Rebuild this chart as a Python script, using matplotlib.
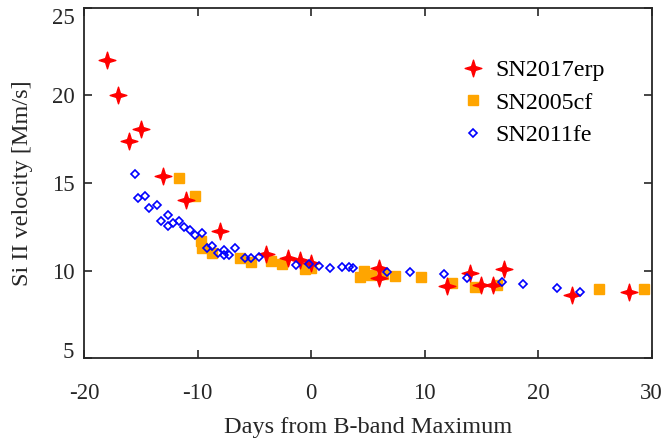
import numpy as np
from matplotlib import pyplot as plt
from matplotlib.path import Path

plt.rcParams['font.family'] = ['Liberation Serif', 'DejaVu Serif']

# SN2017erp (red stars)
erp_days = [-18, -17, -16, -15, -13, -11, -8, -4, -2, -1, 0, 6, 6, 12, 14, 15, 16, 17, 23, 28]
erp_vel = [22.0, 20.0, 17.4, 18.1, 15.4, 14.05, 12.25, 10.95, 10.7, 10.6, 10.45,
           10.12, 9.55, 9.1, 9.85, 9.2, 9.15, 10.1, 8.6, 8.8]

# SN2005cf (orange squares)
cf_days = [-11.6, -10.2, -9.7, -9.6, -8.7, -6.3, -5.3, -3.5, -2.6, -0.5, 0.0,
           4.3, 4.7, 5.3, 6.3, 7.4, 9.7, 12.4, 14.4, 16.4, 25.4, 29.3]
cf_vel = [15.3, 14.25, 11.7, 11.3, 11.0, 10.73, 10.5, 10.54, 10.37, 10.1, 10.16,
          9.65, 9.95, 9.75, 9.8, 9.7, 9.65, 9.3, 9.07, 9.15, 8.92, 8.96]

# SN2011fe (blue open diamonds)
fe_days = [-15.5, -15.2, -14.6, -14.3, -13.6, -13.2, -12.6, -12.6, -12.2, -11.6,
           -11.2, -10.7, -10.2, -9.6, -9.2, -8.7, -8.2, -7.7, -7.7, -7.2, -6.7,
           -5.8, -5.3, -4.6, -1.3, -0.2, 0.7, 1.65, 2.7, 3.35, 3.7,
           6.7, 8.75, 11.7, 13.7, 16.8, 18.7, 21.7, 23.7]
fe_vel = [15.52, 14.15, 14.24, 13.58, 13.73, 12.82, 13.2, 12.53, 12.72, 12.82,
          12.5, 12.3, 12.02, 12.15, 11.26, 11.43, 11.01, 11.2, 10.86, 10.88, 11.26,
          10.69, 10.73, 10.79, 10.31, 10.35, 10.25, 10.16, 10.22, 10.22, 10.12,
          9.91, 9.91, 9.8, 9.59, 9.36, 9.25, 9.02, 8.79]

xticks = [-20, -10, 0, 10, 20, 30]
xtick_labels = ['-20', '-10', '0', '10', '20', '30']
yticks = [5, 10, 15, 20, 25]

# four pointed star marker
ang = np.arange(8) * np.pi / 4 + np.pi / 2
rad = np.where(np.arange(8) % 2 == 0, 1.0, 0.33)
verts = np.column_stack([rad * np.cos(ang), rad * np.sin(ang)])
verts = np.vstack([verts, verts[:1]])
star = Path(verts, [Path.MOVETO] + [Path.LINETO] * 7 + [Path.CLOSEPOLY])

fig = plt.figure(figsize=(6.65, 4.41), dpi=100)
ax = fig.add_axes([0.1263, 0.188, 0.8537, 0.794])

ax.plot(erp_days, erp_vel, linestyle='none', marker=star, markersize=12,
        color='#ff0000', mec='#ff0000', label='SN2017erp', zorder=3)
ax.plot(cf_days, cf_vel, linestyle='none', marker='s', markersize=6.5,
        color='#ffa500', mec='#ffa500', label='SN2005cf', zorder=2)
ax.plot(fe_days, fe_vel, linestyle='none', marker='D', markersize=4,
        mfc='none', mec='#0000ff', mew=1.2, label='SN2011fe', zorder=4)

ax.set_xlim(-20, 30)
ax.set_ylim(5, 25)
ax.set_xticks(xticks)
ax.set_xticklabels(xtick_labels)
ax.set_yticks(yticks)
ax.tick_params(direction='in', length=6, width=1.2, top=True, right=True,
               labelsize=16.5, colors='#262626')
ax.tick_params(axis='x', pad=18)
ax.tick_params(axis='y', pad=7)
for s in ax.spines.values():
    s.set_linewidth(1.3)
    s.set_color('#262626')

# end labels sit inside the axis range, like the original
ylabs = ax.get_yticklabels()
ylabs[0].set_verticalalignment('baseline')
ylabs[-1].set_verticalalignment('top')

ax.set_xlabel('Days from B-band Maximum', fontsize=17.5, color='#262626', labelpad=9)
ax.set_ylabel('Si II velocity [Mm/s]', fontsize=17.5, color='#262626', labelpad=13)

ax.legend(loc='upper right', bbox_to_anchor=(0.955, 0.915), frameon=False,
          fontsize=17.3, handletextpad=0.3, labelspacing=0.45, handlelength=1.2)

fig.savefig('out.png', dpi=100)
